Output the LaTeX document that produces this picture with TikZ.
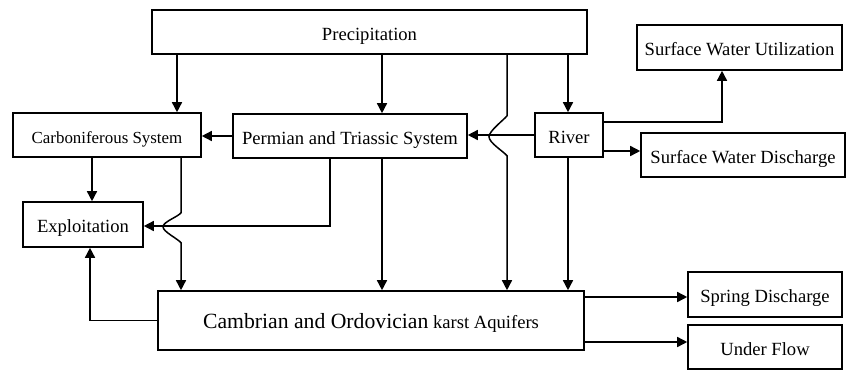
\documentclass[tikz,border=0pt]{standalone}
\usepackage{fontspec}
\setmainfont{Liberation Serif}
\usepackage{tikz}
\usetikzlibrary{calc}
\usetikzlibrary{arrows.meta}

\begin{document}
\begin{tikzpicture}[x=1pt,y=-1pt,>={Triangle[length=10pt,width=10pt]},
    box/.style={draw,line width=1.6pt,inner sep=0pt,text height=16pt,text depth=0pt,font=\fontsize{18.6}{21}\selectfont},
    flow/.style={->,line width=1.5pt}]
        \useasboundingbox(0,0)rectangle(850,370);
        \node[box,minimum width=435pt,minimum height=44pt](prec)at(369.5,32){Precipitation};
        \node[box,minimum width=188pt,minimum height=44pt,font=\fontsize{16.9}{19}\selectfont](carb)at(107,135){Carboniferous System};
        \node[box,minimum width=234pt,minimum height=44pt](perm)at(350,136){Permian and Triassic System};
        \node[box,minimum width=68pt,minimum height=44pt](river)at(569,135){River};
        \node[box,minimum width=205pt,minimum height=45pt](swu)at(739.5,47.5){Surface Water Utilization};
        \node[box,minimum width=204pt,minimum height=44pt](swd)at(743,155){Surface Water Discharge};
        \node[box,minimum width=120pt,minimum height=45pt](expl)at(83,224.5){Exploitation};
        \node[box,minimum width=426pt,minimum height=59pt](camb)at(371,320.5){{\fontsize{21.7}{24}\selectfont Cambrian and Ordovician} karst Aquifers};
        \node[box,minimum width=154pt,minimum height=45pt](spring)at(765,294.5){Spring Discharge};
        \node[box,minimum width=154pt,minimum height=44pt](under)at(765,347){Under Flow};
        % x positions of the vertical connectors
        \coordinate(xa)at(177,0);\coordinate(xb)at(382,0);\coordinate(xc)at(568,0);
        \coordinate(xd)at(507,0);\coordinate(xe)at(92,0);\coordinate(xf)at(181,0);
        \coordinate(xg)at(330,0);\coordinate(xh)at(90,0);\coordinate(xi)at(722,0);
        % start points on the right hand sides
        \coordinate(ra)at($(river.east)+(0,-13)$);\coordinate(rb)at($(river.east)+(0,16)$);
        \coordinate(ca)at($(camb.east)+(0,-23.5)$);\coordinate(cb)at($(camb.east)+(0,21.5)$);
        \draw[flow](prec.south-|xa)--(carb.north-|xa);
        \draw[flow](prec.south-|xb)--(perm.north-|xb);
        \draw[flow](prec.south-|xc)--(river.north-|xc);
        \draw[flow](prec.south-|xd)--++(0,61).. controls +(-3,4) and +(0,-6) ..++(-18,21)
            .. controls +(0,6) and +(-3,-4) ..++(18,19)--(camb.north-|xd);
        \draw[flow](river.west)--(river.west-|perm.east);
        \draw[flow](perm.west)--(perm.west-|carb.east);
        \draw[flow](ra)-|(swu.south-|xi);
        \draw[flow](rb)--(rb-|swd.west);
        \draw[flow](river.south-|xc)--(camb.north-|xc);
        \draw[flow](perm.south-|xb)--(camb.north-|xb);
        \draw[flow](carb.south-|xe)--(expl.north-|xe);
        \draw[flow](carb.south-|xf)--++(0,55).. controls +(-3,4) and +(0,-5) ..++(-18,14)
            .. controls +(0,5) and +(-3,-4) ..++(18,16)--(camb.north-|xf);
        \draw[flow](perm.south-|xg)|-($(expl.east)+(0,1.5)$);
        \draw[flow](camb.west)-|(expl.south-|xh);
        \draw[flow](ca)--(ca-|spring.west);
        \draw[flow](cb)--(cb-|under.west);
    \end{tikzpicture}
\end{document}
